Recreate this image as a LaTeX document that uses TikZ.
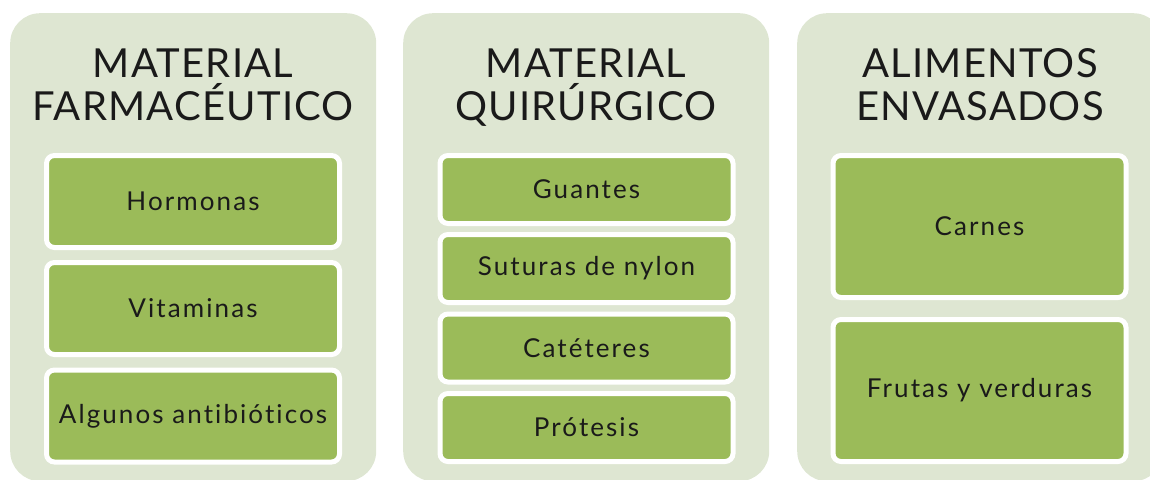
\documentclass[tikz,border=0pt]{standalone}
\usepackage{fontspec}
\setmainfont[Ligatures=NoCommon]{Lato}
\definecolor{panelc}{HTML}{DEE6D2}
\definecolor{itemc}{HTML}{9BBB59}
\definecolor{txtc}{HTML}{1A1A1A}
\tikzset{
  panel/.style={fill=panelc, rounded corners=30pt, minimum width=366pt, minimum height=468pt, anchor=north west, inner sep=0pt},
  ptitle/.style={align=center, anchor=base, inner sep=0pt, text=txtc,
    font=\addfontfeatures{LetterSpace=3}\fontsize{40}{43}\selectfont},
  item/.style={fill=itemc, draw=white, line width=5pt, rounded corners=8pt, minimum width=293pt, inner sep=0pt, text=txtc,
    font=\addfontfeatures{LetterSpace=8}\fontsize{26}{30}\selectfont},
  itemA/.style={item, minimum height=92pt},
  itemB/.style={item, minimum height=68pt},
  itemC/.style={item, minimum height=142pt},
}
\begin{document}
\begin{tikzpicture}[x=1pt,y=-1pt]
\useasboundingbox (0,0) rectangle (1150,479);
\clip (0,0) rectangle (1150,479);
% panels
\node[panel] (p1) at (10,13) {};
\node[panel] (p2) at (403,13) {};
\node[panel] (p3) at (797,13) {};
% titles
\node[ptitle] (t1) at (193,120) {MATERIAL\\FARMACÉUTICO};
\node[ptitle] (t2) at (586,120) {MATERIAL\\QUIRÚRGICO};
\node[ptitle] (t3) at (980,120) {ALIMENTOS\\ENVASADOS};
% panel 1 items
\node[itemA] (a1) at (193,201.5) {Hormonas};
\node[itemA] (a2) at (193,308.5) {Vitaminas};
\node[itemA] (a3) at (193,416) {Algunos antibióticos};
% panel 2 items
\node[itemB] (b1) at (586.5,189.5) {Guantes};
\node[itemB] (b2) at (586.5,268.5) {Suturas de nylon};
\node[itemB] (b3) at (586.5,348) {Catéteres};
\node[itemB] (b4) at (586.5,427.5) {Prótesis};
% panel 3 items
\node[itemC] (c1) at (979.5,226.5) {Carnes};
\node[itemC] (c2) at (979.5,390.5) {Frutas y verduras};
\end{tikzpicture}
\end{document}
